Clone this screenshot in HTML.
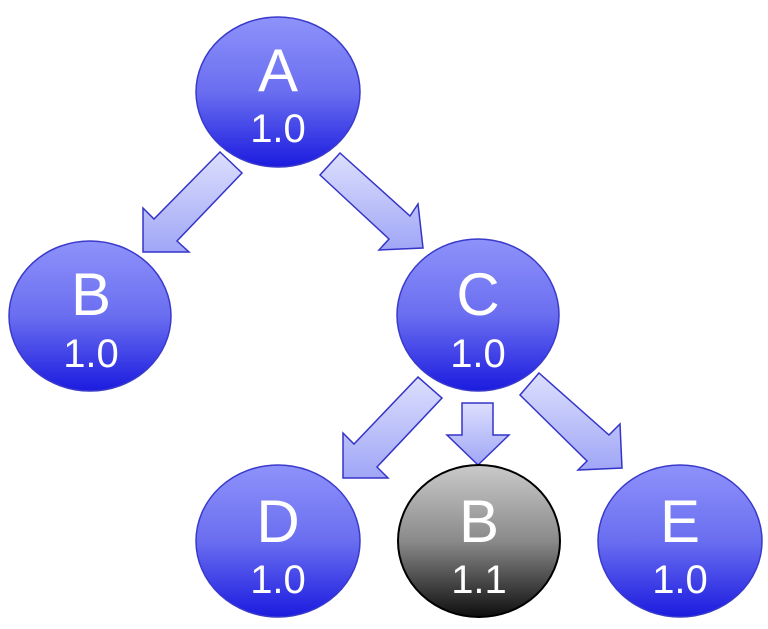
<!DOCTYPE html>
<html><head><style>body{margin:0;background:#fff}svg{display:block}</style></head><body>
<svg width="768" height="629" viewBox="0 0 768 629" xmlns="http://www.w3.org/2000/svg">
<defs>
<linearGradient id="b" x1="0" y1="0" x2="0" y2="1"><stop offset="0" stop-color="#8e92fa"/><stop offset="0.5" stop-color="#6a6ef0"/><stop offset="1" stop-color="#1b1bdf"/></linearGradient>
<linearGradient id="g" x1="0" y1="0" x2="0" y2="1"><stop offset="0" stop-color="#cacaca"/><stop offset="0.5" stop-color="#8a8a8a"/><stop offset="1" stop-color="#0e0e0e"/></linearGradient>
<linearGradient id="ar" x1="0" y1="0" x2="0" y2="1"><stop offset="0" stop-color="#dcdffd"/><stop offset="1" stop-color="#a0a6f6"/></linearGradient>
</defs>
<g fill="url(#ar)" stroke="#3434c8" stroke-width="1.5" stroke-linejoin="miter">
<polygon points="340,153 410,216 418,204 423,248 379,250 389,239 320,175"/>
<polygon points="220,152 242,173 177,241 189,252 143,252 143,208 154,219"/>
<polygon points="418,377 442,398 377,467 388,478 343,478 343,433 354,444"/>
<polygon points="539,373 609,435 620,424 622,468 578,470 587,461 520,395"/>
<polygon points="462,403 493,403 493,435 509,435 478,465 447,435 462,435"/>
</g>
<g stroke="#3a3acb" stroke-width="1.5" fill="url(#b)">
<ellipse cx="278" cy="92" rx="82" ry="75"/>
<ellipse cx="90" cy="316" rx="81" ry="75"/>
<ellipse cx="478" cy="315" rx="81" ry="76"/>
<ellipse cx="278" cy="541" rx="82" ry="76"/>
<ellipse cx="680" cy="541" rx="82" ry="76"/>
</g>
<ellipse cx="479" cy="541" rx="81" ry="76" fill="url(#g)" stroke="#000" stroke-width="2"/>
<g fill="#fff" font-family="Liberation Sans, sans-serif" text-anchor="middle">
<text x="278" y="91" font-size="60">A</text><text x="278" y="142" font-size="40">1.0</text>
<text x="91" y="315" font-size="60">B</text><text x="91" y="367" font-size="40">1.0</text>
<text x="478" y="315" font-size="60">C</text><text x="478" y="367" font-size="40">1.0</text>
<text x="278" y="542" font-size="60">D</text><text x="278" y="593" font-size="40">1.0</text>
<text x="479" y="542" font-size="60">B</text><text x="479" y="593" font-size="40">1.1</text>
<text x="680" y="542" font-size="60">E</text><text x="680" y="593" font-size="40">1.0</text>
</g>
</svg>
</body></html>
